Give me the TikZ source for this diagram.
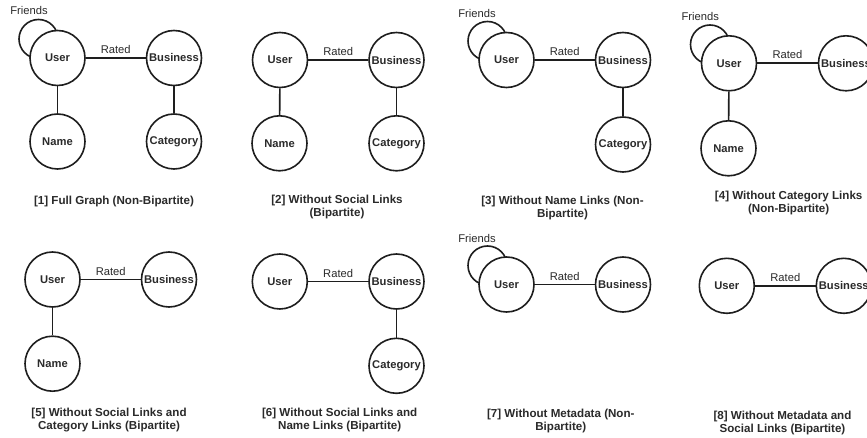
\documentclass[tikz,border=0pt]{standalone}
\usepackage{fontspec}
\setmainfont{Liberation Sans}
\definecolor{linec}{HTML}{1E1E1E}
\definecolor{textc}{HTML}{2A2A2A}
\begin{document}
\begin{tikzpicture}[x=1pt,y=-1pt,
  ent/.style={circle, draw=linec, line width=1.6pt, fill=white, minimum size=55pt, inner sep=0pt,
              font=\bfseries\fontsize{11.2}{13}\selectfont, text=textc},
  loopc/.style={circle, draw=linec, line width=1.6pt, minimum size=39pt, inner sep=0pt},
  lnk/.style={draw=linec, line width=1.6pt},
  elab/.style={font=\fontsize{11.2}{13}\selectfont, text=textc, inner sep=0pt},
  captxt/.style={font=\bfseries\fontsize{11.6}{13}\selectfont, align=center, text=textc, inner sep=0pt}]
\useasboundingbox (0,0) rectangle (867,438);
\fill[white] (0,0) rectangle (867,438);

% ---------- Panel 1 ----------
\node[loopc] (l1) at (38.5,39) {};
\node[elab] (f1) at (29,11) {Friends};
\node[ent] (u1) at (57.5,58) {User};
\node[ent] (b1) at (174,58) {Business};
\node[ent] (n1) at (57.5,141.5) {Name};
\node[ent] (c1) at (174,141.5) {Category};
\draw[lnk] (u1) -- node[elab, above=3.5pt] {Rated} (b1);
\draw[lnk] (u1) -- (n1);
\draw[lnk] (b1) -- (c1);
\node[captxt] (t1) at (114,201.7) {[1] Full Graph (Non-Bipartite)};

% ---------- Panel 2 ----------
\node[ent] (u2) at (280,60) {User};
\node[ent] (b2) at (396.5,60) {Business};
\node[ent] (n2) at (279.5,143.3) {Name};
\node[ent] (c2) at (396.5,143.3) {Category};
\draw[lnk] (u2) -- node[elab, above=3.5pt] {Rated} (b2);
\draw[lnk] (u2) -- (n2);
\draw[lnk] (b2) -- (c2);
\node[captxt] (t2) at (337,207.5) {[2] Without Social Links\\(Bipartite)};

% ---------- Panel 3 ----------
\node[loopc] (l3) at (487.5,41) {};
\node[elab] (f3) at (477,13.5) {Friends};
\node[ent] (u3) at (506.5,60) {User};
\node[ent] (b3) at (623,60) {Business};
\node[ent] (c3) at (623,144.5) {Category};
\draw[lnk] (u3) -- node[elab, above=3.5pt] {Rated} (b3);
\draw[lnk] (b3) -- (c3);
\node[captxt] (t3) at (562.5,207.7) {[3] Without Name Links (Non-\\Bipartite)};

% ---------- Panel 4 ----------
\node[loopc] (l4) at (710,44.5) {};
\node[elab] (f4) at (700.3,17) {Friends};
\node[ent] (u4) at (729,63.3) {User};
\node[ent] (b4) at (846,63.3) {Business};
\node[ent] (n4) at (728.5,148.3) {Name};
\draw[lnk] (u4) -- node[elab, above=3.5pt] {Rated} (b4);
\draw[lnk] (u4) -- (n4);
\node[captxt] (t4) at (788.7,203.5) {[4] Without Category Links\\(Non-Bipartite)};

% ---------- Panel 5 ----------
\node[ent] (u5) at (52.5,279.5) {User};
\node[ent] (b5) at (169,279.5) {Business};
\node[ent] (n5) at (52.5,363.7) {Name};
\draw[lnk] (u5) -- node[elab, above=3.5pt] {Rated} (b5);
\draw[lnk] (u5) -- (n5);
\node[captxt] (t5) at (109,419.7) {[5] Without Social Links and\\Category Links (Bipartite)};

% ---------- Panel 6 ----------
\node[ent] (u6) at (279.8,281.5) {User};
\node[ent] (b6) at (396.5,281.5) {Business};
\node[ent] (c6) at (396.5,365.8) {Category};
\draw[lnk] (u6) -- node[elab, above=3.5pt] {Rated} (b6);
\draw[lnk] (b6) -- (c6);
\node[captxt] (t6) at (339.7,419.5) {[6] Without Social Links and\\Name Links (Bipartite)};

% ---------- Panel 7 ----------
\node[loopc] (l7) at (487.5,265.5) {};
\node[elab] (f7) at (477,238.3) {Friends};
\node[ent] (u7) at (506.5,284.5) {User};
\node[ent] (b7) at (623,284.5) {Business};
\draw[lnk] (u7) -- node[elab, above=3.5pt] {Rated} (b7);
\node[captxt] (t7) at (560.8,420.5) {[7] Without Metadata (Non-\\Bipartite)};

% ---------- Panel 8 ----------
\node[ent] (u8) at (726.8,285.8) {User};
\node[ent] (b8) at (843.8,285.8) {Business};
\draw[lnk] (u8) -- node[elab, above=3.5pt] {Rated} (b8);
\node[captxt] (t8) at (782.5,423) {[8] Without Metadata and\\Social Links (Bipartite)};
\end{tikzpicture}
\end{document}
